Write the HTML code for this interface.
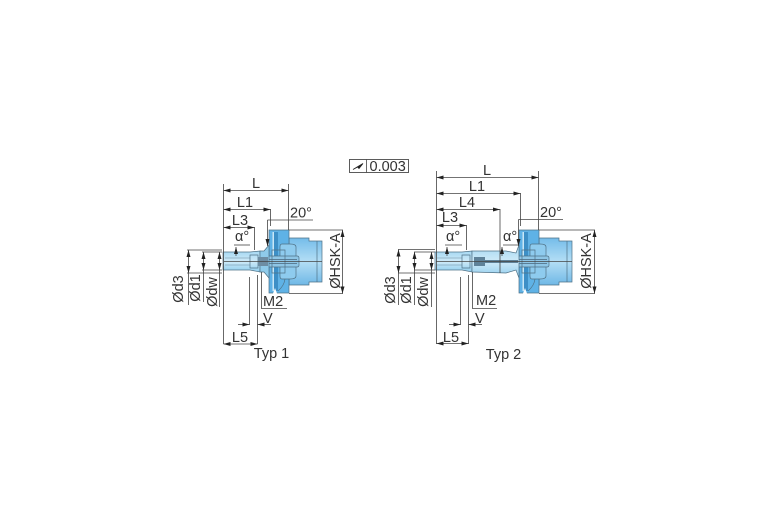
<!DOCTYPE html>
<html>
<head>
<meta charset="utf-8">
<style>
html,body{margin:0;padding:0;background:#fff;width:767px;height:523px;overflow:hidden}
svg{display:block}
text{font-family:"Liberation Sans",sans-serif;font-size:14.5px;fill:#333}
.d{stroke:#444;stroke-width:.8;fill:none}
.o{stroke:#4f7186;stroke-width:.7}
</style>
</head>
<body>
<svg width="767" height="523" viewBox="0 0 767 523" xmlns="http://www.w3.org/2000/svg">
<defs>
<marker id="e" viewBox="0 0 7 5" refX="7" refY="2.5" markerWidth="7" markerHeight="5" orient="auto-start-reverse" markerUnits="userSpaceOnUse"><path d="M0 .5L7 2.500L0 4.500z" fill="#222"/></marker>
<linearGradient id="g" x1="0" y1="0" x2="0" y2="1"><stop offset="0" stop-color="#74bce9"/><stop offset=".5" stop-color="#b4def5"/><stop offset="1" stop-color="#6fb8e6"/></linearGradient>
<linearGradient id="n" x1="0" y1="0" x2="0" y2="1"><stop offset="0" stop-color="#a5d8f2"/><stop offset=".5" stop-color="#cfeaf8"/><stop offset="1" stop-color="#8fcdee"/></linearGradient>
<g id="back">
<path class="o" fill="url(#g)" d="M289 238H309V241H322V282H309V285H289Z"/>
<path fill="#5fb2e6" class="o" d="M269 230H289V293H269Z"/>
<path fill="#c9e7f6" d="M272.500 232H274V291H272.500Z"/>
<path fill="#3d8fc6" d="M274 232H278V291H274Z"/>
<path class="o" fill="#8ecbee" d="M282 244H290Q296 244 296 247V276Q296 279 290 279H282Q280 279 280 276V247Q280 244 282 244Z"/>
<path class="o" fill="none" d="M317 241V282"/>
<path class="o" fill="#8ec6e6" d="M268 256H297Q299 256 299 258V265Q299 267 297 267H268Z"/>
<path fill="#5a7f98" d="M268 259H297V260H268ZM268 263H297V264H268Z"/>
<path class="o" fill="none" d="M272 250H285V273H272Z"/>
<path class="o" fill="none" d="M278 291Q284 286 285 279"/>
<path fill="#fff" d="M273 293.500H277L275 288Z"/>
</g>
<g id="nose">
<path class="o" fill="url(#n)" d="M223 252H250L260 251V272L250 270H223Z"/>
<path class="o" fill="none" d="M250 255H258V268H250Z"/>
<path class="o" fill="none" d="M225 258H250M225 265H250" stroke-opacity=".5"/>
</g>
</defs>

<!-- Tolerance box -->
<rect x="349.500" y="159.500" width="59" height="13" fill="#fff" stroke="#333" stroke-width=".8"/>
<path d="M366.500 159.500V172.500" class="d"/>
<path d="M353 169.500L363 163.500L359 168.500L357.500 167Z" fill="#222" stroke="#222" stroke-width=".8"/>
<text x="369.500" y="171">0.003</text>

<!-- Typ 1 -->
<use href="#back"/>
<use href="#nose"/>
<path fill="#8fcbea" class="o" d="M260 251H264L269 245V278L264 272H260Z"/>
<path fill="#6d8da3" d="M258 257H268V266H258Z"/>
<path class="d" d="M224 261.500H322"/>
<g class="d">
<path d="M223.500 184V344M288.500 184V230M270.500 209V226M254.500 227V250"/>
<path d="M223.500 190.500H288.500" marker-start="url(#e)" marker-end="url(#e)"/>
<path d="M223.500 209.500H270.500" marker-start="url(#e)" marker-end="url(#e)"/>
<path d="M223.500 227.500H254.500" marker-start="url(#e)" marker-end="url(#e)"/>
<path d="M267.500 220H313"/>
<path d="M267.500 220V246" marker-end="url(#e)"/>
<path d="M187 250H222M187 273H222M202 252H222M202 270H222"/>
<path d="M188.500 250V273" marker-start="url(#e)" marker-end="url(#e)"/>
<path d="M203.500 252V270" marker-start="url(#e)" marker-end="url(#e)"/>
<path d="M219.500 252V270" marker-start="url(#e)" marker-end="url(#e)"/>
<path d="M188.500 273V305M203.500 270V302M219.500 270V307"/>
<path d="M249.500 277V325M257.500 275V344M261.500 272V308.500H287"/>
<path d="M223.500 344H257.500" marker-start="url(#e)" marker-end="url(#e)"/>
<path d="M238 324.500H249.500" marker-end="url(#e)"/>
<path d="M271 324.500H257.500" marker-end="url(#e)"/>
<path d="M289 230H343M289 293.500H343"/>
<path d="M342.500 230V293.500" marker-start="url(#e)" marker-end="url(#e)"/>
<path d="M236 247V256" marker-start="url(#e)"/>
<path d="M234 245H250"/>
</g>
<g text-anchor="middle">
<text x="256" y="188">L</text><text x="245" y="207">L1</text><text x="240" y="225">L3</text>
<text x="240" y="342">L5</text><text x="271.500" y="358">Typ 1</text>
</g>
<text x="290" y="217.500">20°</text><text x="235" y="241">α°</text>
<text x="263" y="306">M2</text><text x="263" y="323">V</text>
<g text-anchor="middle">
<text transform="translate(183 289) rotate(-90)">Ød3</text>
<text transform="translate(200 288) rotate(-90)">Ød1</text>
<text transform="translate(217 292) rotate(-90)">Ødw</text>
<text transform="translate(340 261) rotate(-90)">ØHSK-A</text>
</g>

<!-- Typ 2 -->
<use href="#back" x="250"/>
<use href="#nose" x="212"/>
<path fill="url(#n)" class="o" d="M472 251H506L516 253L519 245V278L516 270L506 273L472 272Z"/>
<path fill="#5f8299" d="M474 257H485V266H474ZM485 260H518V263H485Z"/>
<path class="d" d="M500 250V273"/>
<path class="d" d="M436 261.500H572"/>
<g class="d">
<path d="M436.500 171V344M538.500 171V230M520.500 193V226M500 209V250M466.500 225V250"/>
<path d="M436.500 177.500H538.500" marker-start="url(#e)" marker-end="url(#e)"/>
<path d="M436.500 193.500H520.500" marker-start="url(#e)" marker-end="url(#e)"/>
<path d="M436.500 209.500H500" marker-start="url(#e)" marker-end="url(#e)"/>
<path d="M436.500 225.500H466.500" marker-start="url(#e)" marker-end="url(#e)"/>
<path d="M518.500 219.500H563"/>
<path d="M518.500 219.500V246" marker-end="url(#e)"/>
<path d="M398 249.500H435M398 273H435M414 252H435M414 270H435"/>
<path d="M398.500 249.500V273" marker-start="url(#e)" marker-end="url(#e)"/>
<path d="M414.500 252V270" marker-start="url(#e)" marker-end="url(#e)"/>
<path d="M431.500 252V270" marker-start="url(#e)" marker-end="url(#e)"/>
<path d="M398.500 273V305M414.500 270V305M431.500 270V307"/>
<path d="M460.500 277V325M468.500 275V344M472.500 272V308.500H497"/>
<path d="M436.500 343.500H468.500" marker-start="url(#e)" marker-end="url(#e)"/>
<path d="M449 324.500H460.500" marker-end="url(#e)"/>
<path d="M482 324.500H468.500" marker-end="url(#e)"/>
<path d="M539 230H595M539 293.500H595"/>
<path d="M594.500 230V293.500" marker-start="url(#e)" marker-end="url(#e)"/>
<path d="M445 245H462M503 245H519"/>
<path d="M447 247V256" marker-start="url(#e)"/>
<path d="M502 247V256" marker-start="url(#e)"/>
</g>
<g text-anchor="middle">
<text x="487" y="175">L</text><text x="477" y="191">L1</text><text x="467" y="207">L4</text><text x="450" y="222">L3</text>
<text x="451" y="342">L5</text><text x="503.500" y="359">Typ 2</text>
</g>
<text x="540" y="217">20°</text><text x="446" y="241">α°</text><text x="503" y="241">α°</text>
<text x="476" y="305">M2</text><text x="475" y="323">V</text>
<g text-anchor="middle">
<text transform="translate(395 290) rotate(-90)">Ød3</text>
<text transform="translate(411 290) rotate(-90)">Ød1</text>
<text transform="translate(428 292) rotate(-90)">Ødw</text>
<text transform="translate(591 261) rotate(-90)">ØHSK-A</text>
</g>
</svg>
</body>
</html>
